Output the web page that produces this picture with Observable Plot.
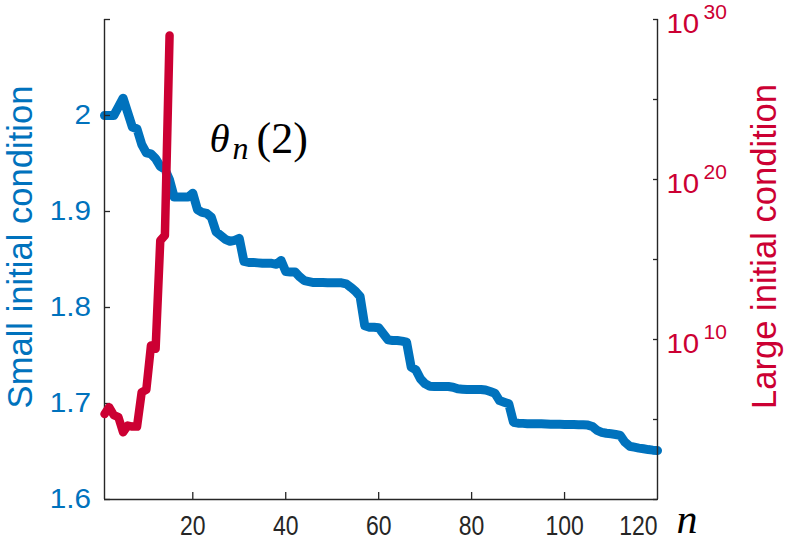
<!DOCTYPE html>
<html><head><meta charset="utf-8">
<script src="https://cdn.jsdelivr.net/npm/d3@7"></script>
<script src="https://cdn.jsdelivr.net/npm/@observablehq/plot@0.6"></script>
<style>
body{margin:0;background:#fff;}
#chart{position:relative;width:789px;height:545px;}
#chart svg{position:absolute;left:0;top:0;}
</style></head><body><div id="chart"></div>
<script>
// Small initial condition, values at n = 1..120 (left axis)
const smallValues = [
 2.000,2.000,2.000,2.009,2.018,2.003,1.988,1.986,1.970,1.961,
 1.960,1.955,1.947,1.944,1.933,1.915,1.915,1.915,1.915,1.919,
 1.902,1.899,1.898,1.894,1.879,1.875,1.871,1.869,1.870,1.872,
 1.848,1.847,1.847,1.8465,1.846,1.846,1.846,1.845,1.849,1.8375,
 1.837,1.837,1.832,1.828,1.827,1.826,1.826,1.826,1.8258,1.8258,
 1.8258,1.8257,1.8247,1.821,1.817,1.8115,1.781,1.7795,1.7795,1.779,
 1.7726,1.7663,1.7656,1.7656,1.765,1.7639,1.7378,1.735,1.7257,1.7205,
 1.718,1.7178,1.7178,1.7177,1.7177,1.717,1.7153,1.7149,1.7146,1.7146,
 1.7146,1.7146,1.714,1.7125,1.7108,1.7031,1.7014,1.6997,1.6805,1.6795,
 1.6793,1.679,1.679,1.6788,1.6788,1.6786,1.6785,1.6784,1.6783,1.6782,
 1.678,1.678,1.6779,1.6778,1.6775,1.676,1.672,1.670,1.669,1.6684,
 1.6677,1.6667,1.6597,1.6555,1.6545,1.6535,1.6528,1.652,1.6514,1.651
];
// Large initial condition, values at n = 1..15 (right log axis)
const largeValues = [2.2e5,5.9e5,1.9e5,1.4e5,1.6e4,4.2e4,3.6e4,3.6e4,5.1e6,7.2e6,4.2e9,2.6e9,1.5e16,3.2e16,1e29];

const xTicks = [20,40,60,80,100];
const xLastTick = [120];
const leftTicks = [1.6,1.7,1.8,1.9,2.0];
const leftTickLabels = ["1.6","1.7","1.8","1.9","2"];
const leftTopTick = [2.1];
const rightTicksAll = [1,1e5,1e10,1e15,1e20,1e25,1e30];
const rightLabelTicks = [1e10,1e20,1e30];
const rightExponents = ["10","20","30"];

const W = 789, H = 545;
const M = {marginLeft:104, marginRight:132, marginTop:19, marginBottom:46};
const BLUE = "#0072bd", RED = "#cc0033", AX = "#262626";
const SANS = "Liberation Sans, Arial, Helvetica, sans-serif";
const NARROW = "Liberation Sans Narrow, Arial Narrow, Liberation Sans, sans-serif";
const SERIF = "Liberation Serif, Times New Roman, serif";

const smallData = smallValues.map((v,i)=>({n:i+1, v}));
const largeData = largeValues.map((v,i)=>({n:i+1, v}));

const p1 = Plot.plot({
  width: W, height: H, ...M,
  style: {background: "transparent", fontFamily: SANS},
  x: {domain: [1,120], label: null},
  y: {domain: [1.6,2.1], label: null},
  marks: [
    Plot.line(smallData, {x:"n", y:"v", stroke: BLUE, strokeWidth: 9, strokeLinejoin: "round"}),
    Plot.ruleX([1], {stroke: AX, strokeWidth: 1.4}),
    Plot.ruleX([120], {stroke: AX, strokeWidth: 1.4}),
    Plot.ruleY([1.6], {stroke: AX, strokeWidth: 1.4}),
    Plot.axisY(leftTicks, {anchor:"left", tickSize:-6, tickPadding:19.5, stroke: AX, strokeWidth:1.3, fill: BLUE, fontSize: 27, fontFamily: SANS, label: null,
      tickFormat: d => leftTickLabels[leftTicks.indexOf(d)]}),
    Plot.axisY(leftTopTick, {anchor:"left", tickSize:-6, stroke: AX, strokeWidth:1.3, fill: "none", label: null}),
    Plot.axisX(xTicks, {anchor:"bottom", tickSize:-7, tickPadding:23, stroke: AX, strokeWidth:1.3, fill: AX, fontSize: 28, fontFamily: NARROW, label: null}),
    Plot.axisX(xLastTick, {anchor:"bottom", tickSize:0, tickPadding:16, fill: AX, fontSize: 28, fontFamily: NARROW, textAnchor: "end", label: null}),
    Plot.text(["Small initial condition"], {frameAnchor:"left", rotate:-90, dx:-73, dy:-12.5, lineAnchor:"bottom", textAnchor:"middle", fontSize:34.6, fontFamily: SANS, fill: BLUE}),
    Plot.text(["n"], {frameAnchor:"bottom-right", dx:19, dy:33, lineAnchor:"bottom", textAnchor:"start", fontSize:42, fontFamily: SERIF, fontStyle:"italic", fill:"#000"}),
    Plot.text(["θ"], {frameAnchor:"top-left", dx:105, dy:132.7, lineAnchor:"bottom", textAnchor:"start", fontSize:41, fontFamily: SERIF, fontStyle:"italic", fill:"#000"}),
    Plot.text(["n"], {frameAnchor:"top-left", dx:128, dy:139.3, lineAnchor:"bottom", textAnchor:"start", fontSize:32, fontFamily: SERIF, fontStyle:"italic", fill:"#000"}),
    Plot.text(["(2)"], {frameAnchor:"top-left", dx:152, dy:133, lineAnchor:"bottom", textAnchor:"start", fontSize:44, fontFamily: SERIF, fill:"#000", letterSpacing: 3})
  ]
});

const p2 = Plot.plot({
  width: W, height: H, ...M,
  style: {background: "transparent", fontFamily: SANS},
  x: {domain: [1,120], label: null, axis: null},
  y: {type: "log", domain: [1,1e30], label: null},
  marks: [
    Plot.line(largeData, {x:"n", y:"v", stroke: RED, strokeWidth: 8.5, strokeLinejoin: "round"}),
    Plot.axisY(rightTicksAll, {anchor:"right", tickSize:-5, stroke: AX, strokeWidth:1.3, fill:"none", label:null}),
    Plot.axisY(rightLabelTicks, {anchor:"right", tickSize:0, tickPadding:9, fill: RED, tickFormat: () => "10", textAnchor:"start", dy:4.5, fontSize:27.5, fontFamily: SANS, label:null}),
    Plot.text(rightLabelTicks, {y: d => d, frameAnchor:"right", text: (d,i) => rightExponents[i], dx:46, dy:-7, textAnchor:"start", fontSize:21, fontFamily: SANS, fill: RED}),
    Plot.text(["Large initial condition"], {frameAnchor:"right", rotate:-90, dx:118, dy:-13, lineAnchor:"bottom", textAnchor:"middle", fontSize:34.6, fontFamily: SANS, fill: RED})
  ]
});

const c = document.getElementById("chart");
c.appendChild(p1);
c.appendChild(p2);

// glyph width adjustment to mimic the reference fonts (condensed x ticks, wider y ticks)
function stretch(svg, aria, f) {
  d3.select(svg).selectAll(`g[aria-label="${aria}"] text`).each(function() {
    const L = this.getComputedTextLength();
    d3.select(this).attr("textLength", L * f).attr("lengthAdjust", "spacingAndGlyphs");
  });
}
stretch(p1, "x-axis tick label", 0.82);
stretch(p1, "y-axis tick label", 1.1);
stretch(p2, "y-axis tick label", 1.07);
</script></body></html>
